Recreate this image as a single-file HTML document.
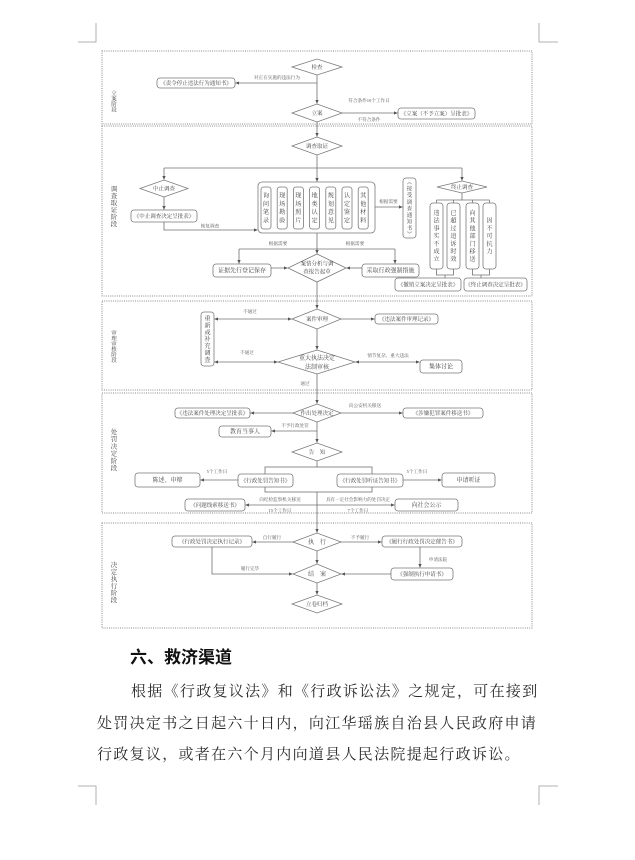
<!DOCTYPE html>
<html>
<head>
<meta charset="utf-8">
<style>
  html,body{margin:0;padding:0;background:#fff;}
  body{width:635px;height:860px;position:relative;overflow:hidden;}
  svg{position:absolute;left:0;top:0;}
  .fr{fill:none;stroke:#8a8a8a;stroke-width:1;stroke-dasharray:1 1.2;}
  .l{fill:none;stroke:#707070;stroke-width:0.8;}
  .b{fill:#fff;stroke:#7a7a7a;stroke-width:0.8;}
  .d{fill:#fff;stroke:#7a7a7a;stroke-width:0.8;}
  .cm{fill:none;stroke:#b0b0b0;stroke-width:1;}
  text{font-family:"Liberation Serif","Noto Serif CJK SC",serif;fill:#444;text-anchor:middle;}
  .t{font-size:5.5px;}
  .t6{font-size:6px;}
  .s{font-size:4.6px;fill:#555;}
  .v{font-size:6.2px;}
  .g{font-size:5.5px;fill:#555;}
  .g6{font-size:6.5px;fill:#555;}
  .txt{position:absolute;white-space:nowrap;color:#2a2a2a;}
  .h{left:130px;top:647px;font-family:"Liberation Sans","Noto Sans CJK SC",sans-serif;font-weight:bold;font-size:17px;line-height:22px;color:#111;}
  .p{font-family:"Liberation Serif","Noto Serif CJK SC",serif;font-size:15px;line-height:31px;letter-spacing:1.3px;}
</style>
</head>
<body>
<svg width="635" height="860" viewBox="0 0 635 860" xmlns="http://www.w3.org/2000/svg">
<defs>
  <marker id="a" markerWidth="4" markerHeight="4" refX="3.6" refY="2" orient="auto-start-reverse" markerUnits="userSpaceOnUse">
    <path d="M0,0.3 L3.8,2 L0,3.7 z" fill="#555"/>
  </marker>
</defs>

<!-- corner marks -->
<path class="cm" d="M96,23 V42 H78"/>
<path class="cm" d="M539,23 V42 H558"/>
<path class="cm" d="M96,805 V786 H78"/>
<path class="cm" d="M539,805 V786 H558"/>

<!-- frames -->
<rect class="fr" x="102" y="51" width="430" height="73"/>
<rect class="fr" x="102" y="126" width="430" height="170"/>
<rect class="fr" x="102" y="301" width="430" height="89"/>
<rect class="fr" x="102" y="393" width="430" height="120"/>
<rect class="fr" x="102" y="523" width="430" height="105"/>

<!-- stage labels -->
<g class="g">
  <text x="114" y="95">立</text><text x="114" y="100.5">案</text><text x="114" y="106">阶</text><text x="114" y="111.5">段</text>
</g>
<g class="g6">
  <text x="114" y="191">调</text><text x="114" y="198">查</text><text x="114" y="205">取</text><text x="114" y="212">证</text><text x="114" y="219">阶</text><text x="114" y="226">段</text>
</g>
<g class="g">
  <text x="114" y="335">审</text><text x="114" y="340.4">理</text><text x="114" y="345.8">审</text><text x="114" y="351.2">核</text><text x="114" y="356.6">阶</text><text x="114" y="362">段</text>
</g>
<g class="g6">
  <text x="114" y="434">处</text><text x="114" y="441.2">罚</text><text x="114" y="448.4">决</text><text x="114" y="455.6">定</text><text x="114" y="462.8">阶</text><text x="114" y="470">段</text>
</g>
<g class="g6">
  <text x="114" y="567">决</text><text x="114" y="574">定</text><text x="114" y="581">执</text><text x="114" y="588">行</text><text x="114" y="595">阶</text><text x="114" y="602">段</text>
</g>

<!-- ============ F1 立案 ============ -->
<path class="l" d="M317,75 V103.5" marker-end="url(#a)"/>
<path class="l" d="M317,83 H235.5" marker-end="url(#a)"/>
<text class="s" x="277" y="79">对正在实施的违法行为</text>
<polygon class="d" points="292,67 317,59 342,67 317,75"/>
<text class="t" x="317" y="69">检查</text>
<rect class="b" x="157" y="78" width="78" height="10" rx="3"/>
<text class="t" x="196" y="85">《责令停止违法行为通知书》</text>

<path class="l" d="M342,113 H397.5" marker-end="url(#a)"/>
<text class="s" x="369" y="102">符合条件10个工作日</text>
<text class="s" x="369" y="121">不符合条件</text>
<rect class="b" x="398" y="108" width="77" height="11" rx="3"/>
<text class="t" x="436.5" y="115.5">《立案（不予立案）呈批表》</text>

<path class="l" d="M317,122 V136.5" marker-end="url(#a)"/>
<polygon class="d" points="292,113 317,104 342,113 317,122"/>
<text class="t" x="317" y="115">立案</text>

<!-- ============ F2 调查取证 ============ -->
<polygon class="d" points="292,146 317,137 342,146 317,155"/>
<text class="t" x="317" y="148">调查取证</text>
<path class="l" d="M317,155 V181.5" marker-end="url(#a)"/>
<path class="l" d="M164,168 H462"/>
<path class="l" d="M164,168 V179.5" marker-end="url(#a)"/>
<path class="l" d="M462,168 V180.5" marker-end="url(#a)"/>

<polygon class="d" points="140,188.5 164,180 188,188.5 164,197"/>
<text class="t" x="164" y="190.5">中止调查</text>
<path class="l" d="M164,197 V209.5" marker-end="url(#a)"/>
<rect class="b" x="131" y="210" width="66" height="12" rx="3"/>
<text class="t" x="164" y="218">《中止调查决定呈批表》</text>
<path class="l" d="M164,222 V230 H257.5" marker-end="url(#a)"/>
<text class="s" x="210" y="227.5">恢复调查</text>

<!-- big box -->
<rect class="b" x="258" y="182" width="117" height="51" rx="4"/>
<g>
  <rect class="b" x="261" y="187" width="10" height="42" rx="2.5"/>
  <rect class="b" x="277.2" y="187" width="10" height="42" rx="2.5"/>
  <rect class="b" x="293.4" y="187" width="10" height="42" rx="2.5"/>
  <rect class="b" x="309.6" y="187" width="10" height="42" rx="2.5"/>
  <rect class="b" x="325.8" y="187" width="10" height="42" rx="2.5"/>
  <rect class="b" x="342" y="187" width="10" height="42" rx="2.5"/>
  <rect class="b" x="358.2" y="187" width="10" height="42" rx="2.5"/>
</g>
<g class="v">
  <text x="266" y="197.5">询</text><text x="266" y="205.8">问</text><text x="266" y="214.1">笔</text><text x="266" y="222.4">录</text>
  <text x="282.2" y="197.5">现</text><text x="282.2" y="205.8">场</text><text x="282.2" y="214.1">勘</text><text x="282.2" y="222.4">验</text>
  <text x="298.4" y="197.5">现</text><text x="298.4" y="205.8">场</text><text x="298.4" y="214.1">照</text><text x="298.4" y="222.4">片</text>
  <text x="314.6" y="197.5">地</text><text x="314.6" y="205.8">类</text><text x="314.6" y="214.1">认</text><text x="314.6" y="222.4">定</text>
  <text x="330.8" y="197.5">规</text><text x="330.8" y="205.8">划</text><text x="330.8" y="214.1">意</text><text x="330.8" y="222.4">见</text>
  <text x="347" y="197.5">认</text><text x="347" y="205.8">定</text><text x="347" y="214.1">鉴</text><text x="347" y="222.4">定</text>
  <text x="363.2" y="197.5">其</text><text x="363.2" y="205.8">他</text><text x="363.2" y="214.1">材</text><text x="363.2" y="222.4">料</text>
</g>

<path class="l" d="M375,207 H402.5" marker-end="url(#a)"/>
<text class="s" x="388.5" y="203">根据需要</text>
<rect class="b" x="403" y="178" width="13" height="60" rx="3"/>
<g class="t">
  <text x="409.5" y="184">︽</text><text x="409.5" y="190.6">接</text><text x="409.5" y="197.2">受</text><text x="409.5" y="203.8">调</text><text x="409.5" y="210.4">查</text><text x="409.5" y="217">通</text><text x="409.5" y="223.6">知</text><text x="409.5" y="230.2">书</text><text x="409.5" y="236">︾</text>
</g>

<!-- 终止调查 -->
<polygon class="d" points="437,187 462,181 487,187 462,193"/>
<text class="t" x="462" y="189">终止调查</text>
<path class="l" d="M462,193 V200"/>
<path class="l" d="M436.5,200 H489.5"/>
<path class="l" d="M436.5,200 V203 M453.5,200 V203 M472.5,200 V203 M489.5,200 V203"/>
<rect class="b" x="430" y="203" width="13" height="66" rx="3"/>
<rect class="b" x="447" y="203" width="13" height="66" rx="3"/>
<rect class="b" x="466" y="203" width="13" height="66" rx="3"/>
<rect class="b" x="483" y="203" width="13" height="66" rx="3"/>
<g class="v">
  <text x="436.5" y="215">违</text><text x="436.5" y="222.7">法</text><text x="436.5" y="230.4">事</text><text x="436.5" y="238.1">实</text><text x="436.5" y="245.8">不</text><text x="436.5" y="253.5">成</text><text x="436.5" y="261.2">立</text>
  <text x="453.5" y="215">已</text><text x="453.5" y="222.7">超</text><text x="453.5" y="230.4">过</text><text x="453.5" y="238.1">追</text><text x="453.5" y="245.8">诉</text><text x="453.5" y="253.5">时</text><text x="453.5" y="261.2">效</text>
  <text x="472.5" y="215">向</text><text x="472.5" y="222.7">其</text><text x="472.5" y="230.4">他</text><text x="472.5" y="238.1">部</text><text x="472.5" y="245.8">门</text><text x="472.5" y="253.5">移</text><text x="472.5" y="261.2">送</text>
  <text x="489.5" y="222.7">因</text><text x="489.5" y="230.4">不</text><text x="489.5" y="238.1">可</text><text x="489.5" y="245.8">抗</text><text x="489.5" y="253.5">力</text>
</g>
<path class="l" d="M436.5,269 V275 H453.5 V269 M445,275 V278"/>
<path class="l" d="M472.5,269 V275 H489.5 V269 M481,275 V278"/>
<rect class="b" x="395" y="278" width="66" height="13" rx="3"/>
<text class="t" x="428" y="286.5">《撤销立案决定呈批表》</text>
<rect class="b" x="464" y="278" width="63" height="13" rx="3"/>
<text class="t" x="495.5" y="286.5">《终止调查决定呈批表》</text>

<!-- below big box -->
<path class="l" d="M317,233 V253.5" marker-end="url(#a)"/>
<path class="l" d="M239,249 H395"/>
<path class="l" d="M239,249 V263.5" marker-end="url(#a)"/>
<path class="l" d="M395,249 V263.5" marker-end="url(#a)"/>
<text class="s" x="278" y="245">根据需要</text>
<text class="s" x="355" y="245">根据需要</text>
<rect class="b" x="213" y="264" width="58" height="13" rx="3"/>
<text class="t6" x="242" y="272.5">证据先行登记保存</text>
<rect class="b" x="362" y="264" width="57" height="13" rx="3"/>
<text class="t6" x="390.5" y="272.5">采取行政强制措施</text>
<path class="l" d="M271,268 H287.5" marker-end="url(#a)"/>
<path class="l" d="M362,268 H346.5" marker-end="url(#a)"/>
<path class="l" d="M317,282 V308.5" marker-end="url(#a)"/>
<polygon class="d" points="288,268 317,254 346,268 317,282"/>
<text class="t" x="317" y="265.5">案情分析与调</text>
<text class="t" x="317" y="273.5">查报告起草</text>

<!-- ============ F3 审理 ============ -->
<polygon class="d" points="292,319 317,309 341,319 317,329"/>
<text class="t" x="317" y="321">案件审理</text>
<path class="l" d="M341,319 H374.5" marker-end="url(#a)"/>
<rect class="b" x="375" y="314" width="63" height="10" rx="3"/>
<text class="t" x="406.5" y="321">《违法案件审理记录》</text>
<path class="l" d="M291.5,319 H214.5" marker-start="url(#a)" marker-end="url(#a)"/>
<text class="s" x="250" y="313">不通过</text>
<rect class="b" x="201" y="312" width="13" height="54" rx="3"/>
<g class="v">
  <text x="207.5" y="320.5">重</text><text x="207.5" y="327.4">新</text><text x="207.5" y="334.3">或</text><text x="207.5" y="341.2">补</text><text x="207.5" y="348.1">充</text><text x="207.5" y="355">调</text><text x="207.5" y="361.9">查</text>
</g>
<path class="l" d="M317,329 V349.5" marker-end="url(#a)"/>
<polygon class="d" points="278,362 317,350 355,362 317,374"/>
<text class="t6" x="317" y="360">重大执法决定</text>
<text class="t6" x="317" y="369">法制审核</text>
<path class="l" d="M277.5,362 H214.5" marker-start="url(#a)" marker-end="url(#a)"/>
<text class="s" x="247" y="354">不通过</text>
<path class="l" d="M355.5,362 H419.5" marker-start="url(#a)" marker-end="url(#a)"/>
<text class="s" x="388" y="357">情节复杂、重大违法</text>
<rect class="b" x="420" y="360" width="42" height="13" rx="3"/>
<text class="t6" x="441" y="368.5">集体讨论</text>
<text class="s" x="305" y="385">通过</text>
<path class="l" d="M317,374 V403.5" marker-end="url(#a)"/>

<!-- ============ F4 处罚决定 ============ -->
<polygon class="d" points="293,413 317,404 341,413 317,422"/>
<text class="t" x="317" y="415">作出处理决定</text>
<path class="l" d="M293,413 H250.5" marker-end="url(#a)"/>
<rect class="b" x="175" y="408" width="75" height="10" rx="3"/>
<text class="t" x="212.5" y="415">《违法案件处理决定呈批表》</text>
<path class="l" d="M341,413 H402.5" marker-end="url(#a)"/>
<text class="s" x="365" y="407">向公安机关移送</text>
<rect class="b" x="403" y="408" width="80" height="10" rx="3"/>
<text class="t" x="443" y="415">《涉嫌犯罪案件移送书》</text>
<path class="l" d="M317,431 H271.5" marker-end="url(#a)"/>
<text class="s" x="295" y="427">不予行政处罚</text>
<rect class="b" x="219" y="426" width="52" height="11" rx="3"/>
<text class="t6" x="245" y="433.5">教育当事人</text>
<path class="l" d="M317,422 V442.5" marker-end="url(#a)"/>
<polygon class="d" points="292,452 317,443 342,452 317,461"/>
<text class="t" x="317" y="454">告　知</text>
<path class="l" d="M317,461 V467"/>
<rect class="l" x="265" y="467" width="107" height="25"/>
<rect class="b" x="238" y="474" width="55" height="13" rx="3"/>
<text class="t" x="265.5" y="482.5">《行政处罚告知书》</text>
<rect class="b" x="337" y="474" width="66" height="13" rx="3"/>
<text class="t" x="370" y="482.5">《行政处罚听证告知书》</text>
<path class="l" d="M238,480 H200.5" marker-end="url(#a)"/>
<text class="s" x="217" y="473">5个工作日</text>
<rect class="b" x="135" y="473" width="65" height="14" rx="3"/>
<text class="t6" x="167.5" y="482">陈述、申辩</text>
<path class="l" d="M403,480 H441.5" marker-end="url(#a)"/>
<text class="s" x="417" y="473">5个工作日</text>
<rect class="b" x="442" y="473" width="53" height="14" rx="3"/>
<text class="t6" x="468.5" y="482">申请听证</text>

<path class="l" d="M317,492 V532.5" marker-end="url(#a)"/>
<path class="l" d="M245.5,505 H394.5" marker-start="url(#a)" marker-end="url(#a)"/>
<text class="s" x="280" y="501">向纪检监察机关移送</text>
<text class="s" x="280" y="512">15个工作日</text>
<text class="s" x="358" y="501">具有一定社会影响力的处罚决定</text>
<text class="s" x="358" y="512">7个工作日</text>
<rect class="b" x="185" y="499" width="60" height="12" rx="3"/>
<text class="t" x="215" y="507">《问题线索移送书》</text>
<rect class="b" x="395" y="499" width="63" height="12" rx="3"/>
<text class="t6" x="426.5" y="507">向社会公示</text>

<!-- ============ F5 执行 ============ -->
<polygon class="d" points="293,542 317,533 341,542 317,551"/>
<text class="t6" x="317" y="544">执　行</text>
<path class="l" d="M293,542 H252.5" marker-end="url(#a)"/>
<text class="s" x="272" y="539">自行履行</text>
<rect class="b" x="172" y="536" width="80" height="11" rx="3"/>
<text class="t" x="212" y="543.5">《行政处罚决定执行记录》</text>
<path class="l" d="M341,542 H381.5" marker-end="url(#a)"/>
<text class="s" x="360" y="539">不予履行</text>
<rect class="b" x="382" y="536" width="80" height="11" rx="3"/>
<text class="t" x="422" y="543.5">《履行行政处罚决定催告书》</text>
<path class="l" d="M317,551 V563.5" marker-end="url(#a)"/>
<path class="l" d="M212,547 V574 H292.5" marker-end="url(#a)"/>
<text class="s" x="250" y="570">履行完毕</text>
<path class="l" d="M420,547 V567.5" marker-end="url(#a)"/>
<text class="s" x="438" y="561">申请法院</text>
<rect class="b" x="391" y="568" width="62" height="12" rx="3"/>
<text class="t" x="422" y="576">《强制执行申请书》</text>
<path class="l" d="M391,574 H341.5" marker-end="url(#a)"/>
<polygon class="d" points="293,574 317,564 341,574 317,583"/>
<text class="t6" x="317" y="576">结　案</text>
<path class="l" d="M317,583 V594.5" marker-end="url(#a)"/>
<polygon class="d" points="292,604 317,595 342,604 317,613"/>
<text class="t" x="317" y="606">立卷归档</text>
</svg>

<div class="txt h">六、救济渠道</div>
<div class="txt p" style="left:131px;top:677px;">根据《行政复议法》和《行政诉讼法》之规定，可在接到</div>
<div class="txt p" style="left:97px;top:709px;">处罚决定书之日起六十日内，向江华瑶族自治县人民政府申请</div>
<div class="txt p" style="left:97px;top:740px;">行政复议，或者在六个月内向道县人民法院提起行政诉讼。</div>
</body>
</html>
